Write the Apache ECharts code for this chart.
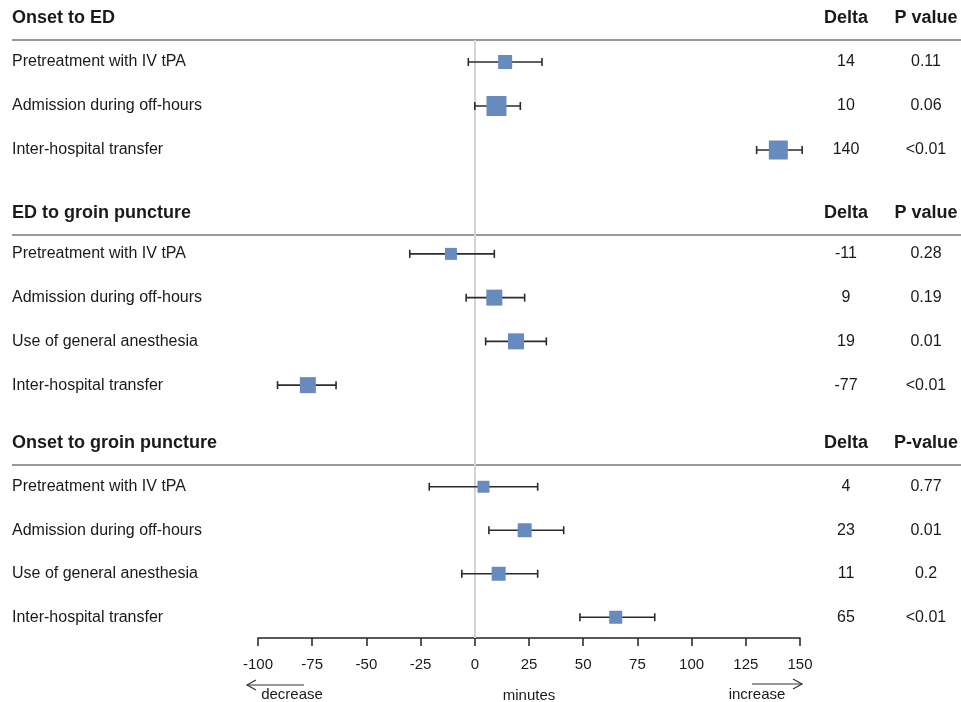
<!DOCTYPE html>
<html>
<head>
<meta charset="utf-8">
<script src="https://cdn.jsdelivr.net/npm/echarts@6/dist/echarts.min.js"></script>
<style>
  html, body { margin: 0; padding: 0; background: #fff; }
  #main { width: 961px; height: 702px; }
</style>
</head>
<body>
<div id="main"></div>
<script>
// section titles and p column headers
const sections = ['Onset to ED', 'ED to groin puncture', 'Onset to groin puncture']
const pHeaders = ['P value', 'P value', 'P-value']

// Onset to ED
const labels1 = ['Pretreatment with IV tPA', 'Admission during off-hours', 'Inter-hospital transfer']
const delta1 = [14, 10, 140]
const low1 = [-3, 0, 130]
const high1 = [31, 21, 151]
const pval1 = ['0.11', '0.06', '<0.01']
const weight1 = [14, 20, 19]

// ED to groin puncture
const labels2 = ['Pretreatment with IV tPA', 'Admission during off-hours', 'Use of general anesthesia', 'Inter-hospital transfer']
const delta2 = [-11, 9, 19, -77]
const low2 = [-30, -4, 5, -91]
const high2 = [9, 23, 33, -64]
const pval2 = ['0.28', '0.19', '0.01', '<0.01']
const weight2 = [12, 16, 16, 16]

// Onset to groin puncture
const labels3 = ['Pretreatment with IV tPA', 'Admission during off-hours', 'Use of general anesthesia', 'Inter-hospital transfer']
const delta3 = [4, 23, 11, 65]
const low3 = [-21, 6.5, -6, 48.5]
const high3 = [29, 41, 29, 83]
const pval3 = ['0.77', '0.01', '0.2', '<0.01']
const weight3 = [12, 14, 14, 13]

// x axis
const xMin = -100
const xMax = 150
const xStep = 25

const groups = [
  { labels: labels1, delta: delta1, low: low1, high: high1, pval: pval1, weight: weight1 },
  { labels: labels2, delta: delta2, low: low2, high: high2, pval: pval2, weight: weight2 },
  { labels: labels3, delta: delta3, low: low3, high: high3, pval: pval3, weight: weight3 }
]

const textColor = '#1a1a1a'
const boxColor = '#678bbf'
const font = '"Liberation Sans", Arial, sans-serif'

// layout of the three blocks (top of block = header rule)
const blockTop = [40, 232, 465]
const blockHeight = [132, 175, 174]
const headerY = [18, 213, 443]
const ruleY = [40, 235, 465]

const chart = echarts.init(document.getElementById('main'))

const grid = []
const xAxis = []
const yAxis = []
const series = []

groups.forEach((g, i) => {
  grid.push({ left: 258, width: 542, top: blockTop[i], height: blockHeight[i], outerBoundsMode: 'none', containLabel: false })
  xAxis.push({ gridIndex: i, type: 'value', min: xMin, max: xMax, show: false })
  // row names on the left
  yAxis.push({
    gridIndex: i, type: 'category', data: g.labels, inverse: true,
    axisLine: { show: false }, axisTick: { show: false }, splitLine: { show: false },
    axisLabel: { align: 'left', margin: 246, fontSize: 16, color: textColor, fontFamily: font }
  })
  // delta and p value on the right
  yAxis.push({
    gridIndex: i, type: 'category', data: g.labels, inverse: true, position: 'right',
    axisLine: { show: false }, axisTick: { show: false }, splitLine: { show: false },
    axisLabel: {
      margin: 16, align: 'left',
      formatter: function (v, idx) {
        return '{d|' + g.delta[idx] + '}{p|' + g.pval[idx] + '}'
      },
      rich: {
        d: { width: 60, align: 'center', fontSize: 16, color: textColor, fontFamily: font },
        p: { width: 100, align: 'center', fontSize: 16, color: textColor, fontFamily: font }
      }
    }
  })
  // whiskers
  series.push({
    type: 'custom',
    xAxisIndex: i,
    yAxisIndex: i * 2,
    z: 5,
    encode: { x: [1, 2], y: 0 },
    data: g.labels.map((l, k) => [k, g.low[k], g.high[k]]),
    renderItem: function (params, api) {
      const a = api.coord([api.value(1), api.value(0)])
      const b = api.coord([api.value(2), api.value(0)])
      const st = { stroke: '#2b2b2b', lineWidth: 1.6 }
      return {
        type: 'group',
        children: [
          { type: 'line', shape: { x1: a[0], y1: a[1], x2: b[0], y2: b[1] }, style: st },
          { type: 'line', shape: { x1: a[0], y1: a[1] - 4, x2: a[0], y2: a[1] + 4 }, style: st },
          { type: 'line', shape: { x1: b[0], y1: b[1] - 4, x2: b[0], y2: b[1] + 4 }, style: st }
        ]
      }
    }
  })
  // point estimates
  series.push({
    type: 'scatter',
    xAxisIndex: i,
    yAxisIndex: i * 2,
    z: 6,
    symbol: 'rect',
    symbolSize: function (v, p) { return g.weight[p.dataIndex] },
    itemStyle: { color: boxColor, opacity: 1 },
    data: g.delta.map((d, k) => [d, k])
  })
})

// base grid with the visible x axis and the zero line
grid.push({ left: 258, width: 542, top: 40, height: 598, outerBoundsMode: 'none', containLabel: false })
xAxis.push({
  gridIndex: 3, type: 'value', min: xMin, max: xMax, interval: xStep,
  name: 'minutes', nameLocation: 'middle', nameGap: 50,
  nameTextStyle: { fontSize: 15, color: textColor, fontFamily: font },
  splitLine: { show: false },
  axisLine: { lineStyle: { color: '#222', width: 1.5 } },
  axisTick: { length: 8, lineStyle: { color: '#222', width: 1.5 } },
  axisLabel: { fontSize: 15, color: textColor, margin: 19, fontFamily: font }
})
yAxis.push({ gridIndex: 3, type: 'value', min: 0, max: 1, show: false })
series.push({
  type: 'scatter', xAxisIndex: 3, yAxisIndex: 6, data: [], z: 1,
  markLine: {
    silent: true, symbol: 'none', label: { show: false },
    lineStyle: { color: '#d4d4d4', width: 2, type: 'solid' },
    data: [{ xAxis: 0 }]
  }
})

// headers, rules, arrows
const graphic = []
sections.forEach((s, i) => {
  graphic.push({ type: 'text', x: 12, y: headerY[i], style: { text: s, font: 'bold 18px ' + font, fill: textColor, textAlign: 'left', textVerticalAlign: 'middle' } })
  graphic.push({ type: 'text', x: 846, y: headerY[i], style: { text: 'Delta', font: 'bold 18px ' + font, fill: textColor, textAlign: 'center', textVerticalAlign: 'middle' } })
  graphic.push({ type: 'text', x: 926, y: headerY[i], style: { text: pHeaders[i], font: 'bold 18px ' + font, fill: textColor, textAlign: 'center', textVerticalAlign: 'middle' } })
  graphic.push({ type: 'line', shape: { x1: 12, y1: ruleY[i], x2: 961, y2: ruleY[i] }, style: { stroke: '#777', lineWidth: 1.5 } })
})
graphic.push({ type: 'text', x: 292, y: 695, style: { text: 'decrease', font: '15px ' + font, fill: textColor, textAlign: 'center', textVerticalAlign: 'middle' } })
graphic.push({ type: 'text', x: 757, y: 695, style: { text: 'increase', font: '15px ' + font, fill: textColor, textAlign: 'center', textVerticalAlign: 'middle' } })
// left arrow
graphic.push({ type: 'polyline', shape: { points: [[304, 685], [247, 685]] }, style: { stroke: '#333', lineWidth: 1.2, fill: null } })
graphic.push({ type: 'polyline', shape: { points: [[256, 680], [247, 685], [256, 690]] }, style: { stroke: '#333', lineWidth: 1.2, fill: null } })
// right arrow
graphic.push({ type: 'polyline', shape: { points: [[752, 684], [802, 684]] }, style: { stroke: '#333', lineWidth: 1.2, fill: null } })
graphic.push({ type: 'polyline', shape: { points: [[793, 679], [802, 684], [793, 689]] }, style: { stroke: '#333', lineWidth: 1.2, fill: null } })

chart.setOption({
  animation: false,
  backgroundColor: '#fff',
  grid: grid,
  xAxis: xAxis,
  yAxis: yAxis,
  series: series,
  graphic: graphic
})
</script>
</body>
</html>
